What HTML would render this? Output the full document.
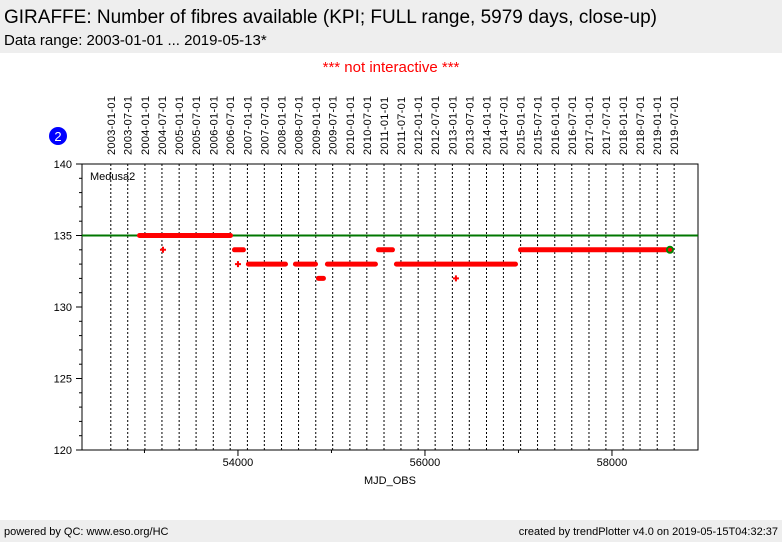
<!DOCTYPE html>
<html><head><meta charset="utf-8"><style>
body{margin:0;width:782px;height:542px;background:#fff;font-family:"Liberation Sans",sans-serif;overflow:hidden;position:relative}
.hdr{position:absolute;left:0;top:0;width:782px;height:53px;background:#eee}
.ftr{position:absolute;left:0;top:520px;width:782px;height:22px;background:#eee;font-size:11px}
</style></head><body>
<div class="hdr">
<div style="position:absolute;left:4px;top:7px;font-size:19px">GIRAFFE: Number of fibres available (KPI; FULL range, 5979 days, close-up)</div>
<div style="position:absolute;left:4px;top:32px;font-size:15px">Data range: 2003-01-01 ... 2019-05-13*</div>
</div>
<div style="position:absolute;left:0;width:782px;top:59px;text-align:center;color:#f00;font-size:15px">*** not interactive ***</div>
<div class="ftr">
<span style="position:absolute;left:4px;top:6px">powered by QC: www.eso.org/HC</span>
<span style="position:absolute;right:4px;top:6px">created by trendPlotter v4.0 on 2019-05-15T04:32:37</span>
</div>
<svg id="chart" width="782" height="542" style="position:absolute;left:0;top:0"></svg>
<script>
const yTicks=[120,125,130,135,140];
const xTicks=[54000,56000,58000];
const refValue=135;
// segments: [startMJD, endMJD, value]
const segStart=[52920,53936,54085,54588,54834,54930,55476,55668,56995];
const segEnd=[53947,54085,54535,54856,54941,55497,55679,56995,58642];
const segValue=[135,134,133,133,132,133,134,133,134];
const singleMJD=[53198,54000,56331];
const singleValue=[134,133,132];
const lastMJD=58620, lastValue=134;
const L=82,R=698,T=164,B=450,x0=52332,x1=58920,y0=120,y1=140;
const X=v=>L+(v-x0)/(x1-x0)*(R-L);
const Y=v=>B-(v-y0)/(y1-y0)*(B-T);
const svg=document.getElementById('chart');const NS='http://www.w3.org/2000/svg';
function el(t,a,txt){const e=document.createElementNS(NS,t);for(const k in a)e.setAttribute(k,a[k]);if(txt!=null)e.textContent=txt;svg.appendChild(e);return e;}
// date grid
for(let y=2003;y<=2019;y++)for(const m of [0,6]){
 const mjd=Date.UTC(y,m,1)/86400000+40587;const x=X(mjd);
 const g=el('line',{x1:x,x2:x,y1:T,y2:B,stroke:'#000','stroke-dasharray':'2,2','stroke-width':1});
 
 const lab=(y+'-'+(m?'07':'01')+'-01');
 const t=el('text',{x:0,y:0,transform:`translate(${x+4},155) rotate(-90)`,'font-size':11,'letter-spacing':'0.3'},lab);
 
}
const ax=el('rect',{x:L,y:T,width:R-L,height:B-T,fill:'none',stroke:'#000'});

for(let v=y0;v<=y1;v++){const y=Y(v);const big=v%5==0;
 const tk=el('line',{x1:L-(big?6:3),x2:L,y1:y,y2:y,stroke:'#000'});}
yTicks.forEach(v=>{const t=el('text',{x:L-10,y:Y(v)+4,'text-anchor':'end','font-size':11},v);});
for(let v=53000;v<=58000;v+=1000){const x=X(v);const big=v%2000==0;
 const tk=el('line',{x1:x,x2:x,y1:B,y2:B+(big?6:3),stroke:'#000'});}
xTicks.forEach(v=>{const t=el('text',{x:X(v),y:B+16,'text-anchor':'middle','font-size':11},v);});
const xt=el('text',{x:390,y:484,'text-anchor':'middle','font-size':11},'MJD_OBS');
const md=el('text',{x:90,y:180,'font-size':11},'Medusa2');
const rl=el('line',{x1:L,x2:R,y1:Y(refValue),y2:Y(refValue),stroke:'#070','stroke-width':2});
segStart.forEach((s,i)=>{const a=X(s),b=X(segEnd[i]),y=Y(segValue[i]);
 const r=el('rect',{x:a,y:y-2.5,width:b-a,height:5,rx:2.5,fill:'#f00'});});
singleMJD.forEach((s,i)=>{const p=el('path',{d:`M${X(s)-3},${Y(singleValue[i])}h6M${X(s)},${Y(singleValue[i])-3}v6`,stroke:'#f00','stroke-width':2});});
const lp=el('circle',{cx:X(lastMJD),cy:Y(lastValue),r:3,fill:'#f00',stroke:'#080','stroke-width':2});
const bc=el('circle',{cx:58,cy:136,r:9,fill:'#00f'});
const bt=el('text',{x:58,y:141,'text-anchor':'middle','font-size':13,fill:'#fff'},'2');
</script>
</body></html>
